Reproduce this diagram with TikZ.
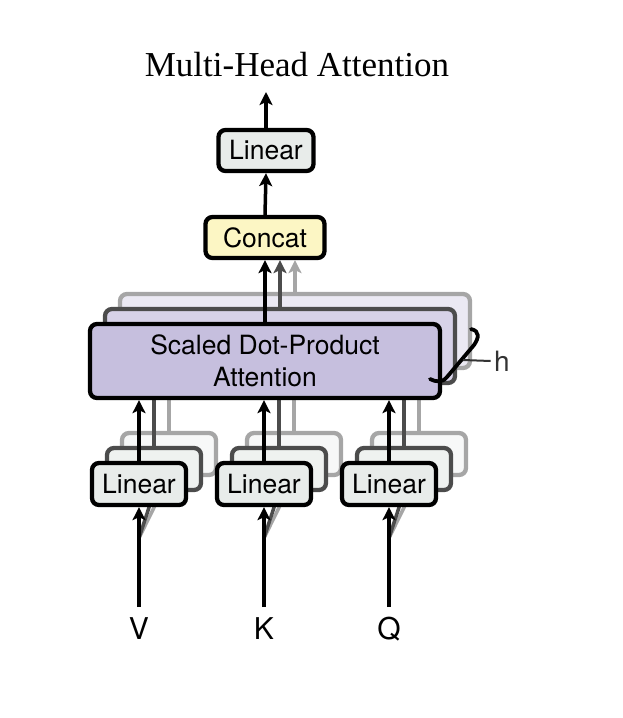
\documentclass[tikz,border=0pt]{standalone}
\usepackage{fontspec}
\setmainfont{TeX Gyre Heros}
\newfontfamily\titlefont{Liberation Serif}
\usetikzlibrary{arrows.meta,positioning,calc}
\definecolor{linfill}{HTML}{E8ECEA}
\definecolor{catfill}{HTML}{FCF6C4}
\definecolor{attfill}{HTML}{C6BFDE}

\begin{document}
\begin{tikzpicture}[x=1pt, y=-1pt,
    box/.style={draw, line width=4.3pt, rounded corners=7pt, inner sep=0pt, align=center,
        font=\fontsize{26.5}{32}\selectfont},
    lin/.style={box, fill=linfill, minimum width=94pt, minimum height=42pt},
    att/.style={box, fill=attfill, minimum width=350pt, minimum height=74pt},
    arr/.style={line width=3.5pt, -{Stealth[length=13pt, width=13pt, inset=3pt]}}]
    \useasboundingbox (0,0) rectangle (622,718);

    % top part
    \node[font=\titlefont\fontsize{35}{40}\selectfont] (title) at (297,65) {Multi-Head Attention};
    \coordinate (out) at (266,92);
    \node[box, fill=linfill, minimum width=95pt, minimum height=41pt] (lintop) at (266,150.5) {Linear};
    \node[box, fill=catfill, minimum width=119pt, minimum height=41pt] (cat) at (265,237.5) {Concat};

    % inputs
    \foreach \n/\x in {V/139, K/264, Q/389} {
        \node[font=\fontsize{30}{34}\selectfont] (in\n) at (\x,629) {\n};
        \coordinate (src\n) at (\x,607);
        \coordinate (fork\n) at (\x,538);
    }

    % the other heads, far one first
    \foreach \k/\g/\p in {30/35/35, 15/70/70} {
        \foreach \n/\x in {V/139, K/264, Q/389} {
            \node[lin, draw=black!\g, fill=linfill!\p!white] (lin\n\k) at (\x+\k,484-\k) {};
            \draw[arr, black!\g] (fork\n) -- (lin\n\k.south);
        }
        \node[att, draw=black!\g, fill=attfill!\p!white] (att\k) at (265+\k,361-\k) {};
        \foreach \n in {V,K,Q}
            \draw[arr, black!\g] (lin\n\k.north) -- (lin\n\k.north |- att\k.south);
        \draw[arr, black!\g] (att\k.north) -- (att\k.north |- cat.south);
    }

    % front head
    \node[att] (att) at (265,361) {Scaled Dot-Product\\Attention};
    \foreach \n/\x in {V/139, K/264, Q/389} {
        \node[lin] (lin\n) at (\x,484) {Linear};
        \draw[arr] (src\n) -- (lin\n.south);
        \draw[arr] (lin\n.north) -- (lin\n.north |- att.south);
    }
    \draw[arr] (att.north) -- (att.north |- cat.south);
    \draw[arr] (cat.north) -- (lintop.south);
    \draw[arr] (lintop.north) -- (out);

    % h brace
    \draw[line width=3.8pt, line cap=round] (471,329) .. controls (480,331) and (479,338) .. (474,345)
        -- (447,377) .. controls (442,383) and (436,382) .. (430,379);
    \node[font=\fontsize{28}{32}\selectfont, text=black!80] (hlab) at (502,361) {h};
    \draw[line width=2pt, black!80] (463,360) -- (hlab.west);
\end{tikzpicture}
\end{document}
